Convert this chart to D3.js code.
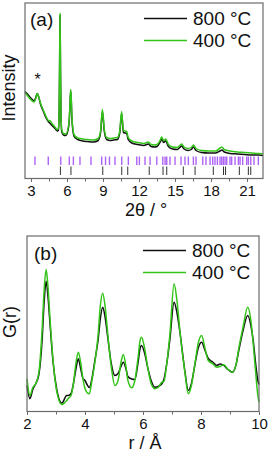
<!DOCTYPE html>
<html>
<head>
<meta charset="utf-8">
<script src="https://cdn.jsdelivr.net/npm/d3@7"></script>
<style>
  body { margin: 0; background: #fff; }
  svg { display: block; font-family: "Liberation Sans", Arial, sans-serif; }
</style>
</head>
<body>
<div id="chart"></div>
<script>
// ---- data: panel (a) XRD ----
const twoTheta = [2.5, 2.7, 2.9, 3.1, 3.25, 3.4, 3.52, 3.65, 3.8, 4.0,
  4.2, 4.44, 4.6, 4.75, 5.0, 5.2, 5.28, 5.34, 5.38, 5.42,
  5.46, 5.5, 5.56, 5.7, 5.9, 6.14, 6.22, 6.27, 6.31, 6.35,
  6.4, 6.5, 6.6, 6.9, 7.3, 7.7, 8.2, 8.6, 8.8, 8.95,
  9.1, 9.3, 9.6, 9.9, 10.2, 10.4, 10.55, 10.7, 10.97, 11.1,
  11.4, 11.9, 12.4, 12.78, 13.0, 13.3, 13.5, 13.75, 13.89, 14.05,
  14.22, 14.45, 14.8, 15.2, 15.4, 15.56, 15.75, 16.1, 16.35, 16.53,
  16.75, 17.2, 17.8, 18.4, 18.75, 18.9, 19.1, 19.6, 20.2, 20.8,
  21.4, 22.0, 22.33];
const xrd800 = [87, 84.5, 81.5, 79, 77.5, 81, 85, 81, 74, 68,
  62, 57, 55, 53, 50, 47.5, 48, 62, 105, 163,
  105, 62, 47, 43.5, 43, 52, 65, 80, 87, 80,
  62, 47, 42, 39, 37.5, 37, 36.5, 38, 46, 67,
  48, 39, 38, 38.5, 39, 46, 65, 46, 45, 39,
  35.5, 34, 33, 34.5, 32, 31.5, 32, 36, 39.5, 36,
  37.5, 32, 29.5, 29, 31, 32.5, 29.5, 28, 29, 31.5,
  28, 26, 25.5, 25.5, 27.5, 28.5, 26.5, 25, 24.5, 24,
  23.5, 23.5, 23];
const xrd400 = [86, 83, 80, 77.5, 76.5, 80, 85, 81.5, 75, 69,
  63.5, 58, 57.5, 55, 51.5, 49, 50, 64, 107, 165,
  107, 64, 49, 45, 44.5, 54, 67, 82, 89, 82,
  64, 49, 43.5, 40.5, 39.5, 39, 38.5, 40, 48, 69,
  50, 41, 40, 40.5, 41, 48, 67, 48, 47, 41,
  37.5, 36, 35, 36.5, 34, 33.5, 34, 38, 41.5, 38,
  39.5, 34, 31.5, 31, 33, 34.5, 31.5, 30, 31, 33.5,
  30, 28, 27.5, 27.5, 30.5, 31.5, 29, 27.5, 26.5, 26,
  25.5, 25, 24.5];
// reflection markers
const purpleRefl = [3.33, 4.44, 5.48, 6.19, 6.53, 7.08, 8.0, 8.89, 9.21, 9.54,
  10.0, 10.56, 11.11, 11.81, 12.03, 12.5, 12.92, 13.48, 13.98, 14.17,
  14.31, 14.58, 15.0, 15.5, 15.83, 16.11, 16.53, 16.75, 17.31, 17.58,
  17.92, 18.14, 18.33, 18.53, 18.75, 18.89, 19.03, 19.17, 19.31, 19.58,
  19.72, 20.0, 20.28, 20.42, 20.64, 20.97, 21.11, 21.31, 21.58, 21.94];
const blackRefl = [5.45, 6.33, 8.98, 10.56, 11.06, 12.85, 14.0, 14.31, 15.69, 16.67,
  18.19, 19.04, 19.21, 20.36, 21.11, 21.31];
const xTicksA = [3, 6, 9, 12, 15, 18, 21];
const xMinorA = [4.5, 7.5, 10.5, 13.5, 16.5, 19.5];
const starAt = [3.55, 94];

// ---- data: panel (b) PDF ----
const rVals = [2.0, 2.1, 2.2, 2.3, 2.41, 2.52, 2.59, 2.66, 2.72, 2.79,
  2.9, 3.02, 3.2, 3.37, 3.42, 3.52, 3.6, 3.69, 3.77, 3.85,
  3.93, 4.0, 4.07, 4.15, 4.24, 4.34, 4.45, 4.53, 4.61, 4.69,
  4.79, 4.9, 5.03, 5.14, 5.24, 5.32, 5.41, 5.48, 5.61, 5.72,
  5.83, 5.9, 5.95, 6.05, 6.17, 6.28, 6.41, 6.52, 6.65, 6.72,
  6.82, 6.93, 7.07, 7.17, 7.28, 7.45, 7.56, 7.67, 7.79, 7.91,
  8.02, 8.14, 8.25, 8.41, 8.54, 8.66, 8.79, 8.93, 9.08, 9.21,
  9.29, 9.45, 9.61, 9.72, 9.8, 9.88, 9.96, 10.0];
const pdf800 = [26, 12.7, 22, 27.7, 37, 71, 109, 130.3, 116, 89,
  49, 23, 8.3, 16, 16, 18, 27.7, 43, 52.7, 43,
  33, 31, 27, 24, 33, 51, 71, 93, 104.3, 95,
  73, 49, 36, 38, 45, 49.3, 43, 35, 32.5, 32,
  49, 63, 66, 59, 43, 31, 24.3, 25, 27.7, 32,
  48, 73, 109.3, 99, 78, 39, 21, 28, 47, 64,
  69.3, 61, 53, 49.3, 46, 47.5, 46, 42, 39.3, 47,
  59, 81, 96, 86, 71, 49, 31, 27];
const pdf400 = [32.7, 16, 24, 27.7, 39, 81, 121, 142, 126, 94.3,
  51, 21, 7, 11, 13, 16, 27.7, 49, 59.3, 49,
  32.7, 23, 19, 17.7, 31, 49, 76, 106, 118.3, 106,
  76, 46, 26, 31, 49, 57, 45, 31, 23.7, 31,
  54, 71, 74.3, 64, 43, 28, 22.7, 24, 29.3, 30,
  48, 78, 127.7, 111, 78, 38, 17.7, 26, 47.7, 69,
  76, 63, 51, 47.7, 44.3, 45, 46.7, 42, 39.3, 47,
  61, 84.3, 104.3, 91, 67.7, 41, 16, 9.3];
const xTicksB = [2, 4, 6, 8, 10];
const xMinorB = [3, 5, 7, 9];

const seriesNames = ['800 °C', '400 °C'];
const seriesColors = ['#111111', '#33c41a'];

const W = 268, H = 452;
const svg = d3.select('#chart').append('svg')
  .attr('width', W).attr('height', H);

const frameColor = '#6b6b6b';

// generic panel builder
function drawPanel(opt) {
  const x = d3.scaleLinear().domain(opt.xDomain).range([opt.left, opt.right]);
  const y = d3.scaleLinear().domain(opt.yDomain).range([opt.bottom, opt.top]);
  const g = svg.append('g');

  // minor ticks
  g.append('g')
    .attr('transform', `translate(0,${opt.bottom})`)
    .call(d3.axisBottom(x).tickValues(opt.minor).tickSize(3).tickFormat(''))
    .call(a => a.select('.domain').remove())
    .call(a => a.selectAll('line').attr('stroke', frameColor));

  // major ticks + labels
  g.append('g')
    .attr('transform', `translate(0,${opt.bottom})`)
    .call(d3.axisBottom(x).tickValues(opt.major).tickSize(3.5).tickPadding(3))
    .call(a => a.select('.domain').remove())
    .call(a => a.selectAll('line').attr('stroke', frameColor))
    .call(a => a.selectAll('text')
      .attr('font-size', 15).attr('fill', '#111')
      .attr('font-family', '"Liberation Sans", Arial, sans-serif'));

  if (opt.extra) opt.extra(g, x, y);

  const line = d3.line()
    .x((d, i) => x(opt.xs[i]))
    .y(d => y(d))
    .curve(d3.curveMonotoneX);

  opt.series.forEach((vals, k) => {
    g.append('path')
      .datum(vals)
      .attr('fill', 'none')
      .attr('stroke', seriesColors[k])
      .attr('stroke-width', 1.5)
      .attr('stroke-linejoin', 'round')
      .attr('d', line);
  });

  // frame
  g.append('rect')
    .attr('x', opt.left).attr('y', opt.top)
    .attr('width', opt.right - opt.left).attr('height', opt.bottom - opt.top)
    .attr('fill', 'none').attr('stroke', frameColor).attr('stroke-width', 1.2);

  // panel label
  g.append('text')
    .attr('x', opt.labelX).attr('y', opt.labelY)
    .attr('dominant-baseline', 'central')
    .attr('font-size', 19).attr('fill', '#111')
    .text(opt.label);

  // legend
  seriesNames.forEach((name, k) => {
    const ly = opt.legendY[k];
    g.append('line')
      .attr('x1', opt.legendX).attr('x2', opt.legendX + 43)
      .attr('y1', ly).attr('y2', ly)
      .attr('stroke', seriesColors[k]).attr('stroke-width', 1.5);
    g.append('text')
      .attr('x', opt.legendX + 49).attr('y', ly)
      .attr('dominant-baseline', 'central')
      .attr('font-size', 19).attr('fill', '#111')
      .text(name);
  });

  // axis titles
  g.append('text')
    .attr('x', (opt.left + opt.right) / 2 + 2).attr('y', opt.xTitleY)
    .attr('text-anchor', 'middle').attr('dominant-baseline', 'central')
    .attr('font-size', 18).attr('fill', '#111')
    .text(opt.xTitle);

  g.append('text')
    .attr('transform', `translate(${opt.yTitleX},${opt.yTitleY}) rotate(-90)`)
    .attr('text-anchor', 'middle').attr('dominant-baseline', 'central')
    .attr('font-size', 18).attr('fill', '#111')
    .text(opt.yTitle);

  return { x, y, g };
}

// panel (a)
drawPanel({
  left: 25, right: 263, top: 3, bottom: 178.5,
  xDomain: [2.5, 22.33], yDomain: [0, 175.5],
  xs: twoTheta, series: [xrd800, xrd400],
  major: xTicksA, minor: xMinorA,
  label: '(a)', labelX: 30, labelY: 19,
  legendX: 144, legendY: [18.5, 40.5],
  xTitle: '2θ / °', xTitleY: 210,
  yTitle: 'Intensity', yTitleX: 9, yTitleY: 88,
  extra: (g, x, y) => {
    // reflection markers
    g.append('g').selectAll('line')
      .data(purpleRefl).join('line')
      .attr('x1', d => x(d)).attr('x2', d => x(d))
      .attr('y1', y(22)).attr('y2', y(13.5))
      .attr('stroke', '#9a3cf5').attr('stroke-opacity', 0.8)
      .attr('stroke-width', 1.4);
    g.append('g').selectAll('line')
      .data(blackRefl).join('line')
      .attr('x1', d => x(d)).attr('x2', d => x(d))
      .attr('y1', y(12)).attr('y2', y(3.5))
      .attr('stroke', '#333').attr('stroke-width', 1);
    // impurity marker, sits just above the small peak
    g.append('text')
      .attr('x', x(starAt[0])).attr('y', y(starAt[1]))
      .attr('text-anchor', 'middle')
      .attr('font-size', 16).attr('fill', '#111')
      .text('*');
  }
});

// panel (b)
drawPanel({
  left: 27, right: 259, top: 236, bottom: 411.5,
  xDomain: [2, 10], yDomain: [0, 175.5],
  xs: rVals, series: [pdf800, pdf400],
  major: xTicksB, minor: xMinorB,
  label: '(b)', labelX: 34, labelY: 253,
  legendX: 143, legendY: [250.5, 272.5],
  xTitle: 'r / Å', xTitleY: 443,
  yTitle: 'G(r)', yTitleX: 10, yTitleY: 322
});
</script>
</body>
</html>
